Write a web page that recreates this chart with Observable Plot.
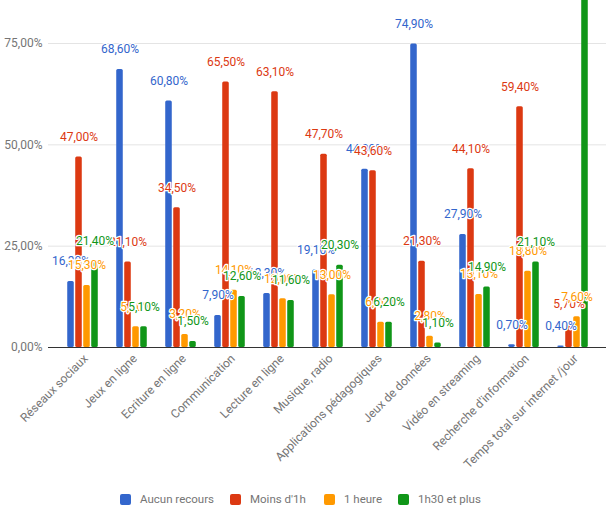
<!DOCTYPE html>
<html>
<head>
<meta charset="utf-8">
<script src="https://cdn.jsdelivr.net/npm/d3@7"></script>
<script src="https://cdn.jsdelivr.net/npm/@observablehq/plot@0.6"></script>
<style>
  html, body { margin: 0; padding: 0; background: #fff; }
  body { width: 610px; height: 512px; overflow: hidden; font-family: Roboto, "Noto Sans", sans-serif; }
  #legend { position: relative; height: 32px; font-size: 11.5px; color: #757575; }
  #legend .item { position: absolute; top: 12px; display: flex; align-items: center; white-space: nowrap; }
  #legend .sw { width: 11px; height: 11px; border-radius: 2px; margin-right: 9px; }
</style>
</head>
<body>
<div id="chart"></div>
<div id="legend"></div>
<script>
// Usage categories (x axis)
const categories = [
  "Réseaux sociaux", "Jeux en ligne", "Ecriture en ligne", "Communication",
  "Lecture en ligne", "Musique, radio", "Applications pédagogiques",
  "Jeux de données", "Vidéo en streaming", "Recherche d'information",
  "Temps total sur internet /jour"
];

// Series names and colours
const seriesNames = ["Aucun recours", "Moins d'1h", "1 heure", "1h30 et plus"];
const seriesColors = ["#3366cc", "#dc3912", "#ff9900", "#109618"];

// Share of respondents (%) per category, one array per series
const aucunRecours = [16.3, 68.6, 60.8, 7.9, 13.3, 19.1, 44.0, 74.9, 27.9, 0.7, 0.4];
const moinsDe1h    = [47.0, 21.1, 34.5, 65.5, 63.1, 47.7, 43.6, 21.3, 44.1, 59.4, 5.7];
const uneHeure     = [15.3, 5.1, 3.2, 14.1, 12.0, 13.0, 6.2, 2.8, 13.1, 18.8, 7.6];
const plus1h30     = [21.4, 5.1, 1.5, 12.6, 11.6, 20.3, 6.2, 1.1, 14.9, 21.1, 86.3];

// Y axis ticks
const yTicks = [0, 25, 50, 75];

const seriesValues = [aucunRecours, moinsDe1h, uneHeure, plus1h30];
const fmt = v => v.toFixed(2).replace(".", ",") + "%";

// Highest value still inside the plot frame; labels above it fall outside the chart
const yTop = 80;

// Bar geometry inside each category band
const band = (599 - 55) / categories.length;
const barW = 7, barGap = 1;
const groupW = 4 * barW + 3 * barGap;

const marks = [
  Plot.gridY(yTicks.slice(1), { stroke: "#e4e4e4", strokeOpacity: 1 }),
];

seriesValues.forEach((vals, i) => {
  const rows = categories.map((c, k) => ({ cat: c, value: vals[k] }));
  const left = (band - groupW) / 2 + i * (barW + barGap);
  marks.push(Plot.barY(rows, {
    x: "cat", y: "value", fill: seriesColors[i],
    insetLeft: left, insetRight: band - left - barW, rx: 1.5, clip: true
  }));
});

seriesValues.forEach((vals, i) => {
  const rows = categories
    .map((c, k) => ({ cat: c, value: vals[k] }))
    .filter(d => d.value < yTop);
  const dx = -groupW / 2 + barW / 2 + i * (barW + barGap);
  marks.push(Plot.text(rows, {
    x: "cat", y: "value", text: d => fmt(d.value), dx, dy: -20,
    fill: seriesColors[i], stroke: "white", strokeWidth: 2.5,
    fontSize: 12, fontFamily: "Roboto"
  }));
});

marks.push(
  Plot.ruleY([0], { stroke: "#333", strokeWidth: 1 }),
  Plot.axisY({
    ticks: yTicks, tickFormat: fmt, tickSize: 0, tickPadding: 6,
    fontSize: 12, fill: "#757575", label: null
  }),
  Plot.axisX({
    tickRotate: -45, tickSize: 0, tickPadding: 9, dx: 3,
    fontSize: 12, fill: "#757575", label: null
  })
);

const chart = Plot.plot({
  width: 610, height: 480,
  marginLeft: 48, marginRight: 4, marginTop: 0, marginBottom: 133,
  style: { fontFamily: "Roboto", background: "white" },
  x: { domain: categories, range: [55, 599], padding: 0 },
  y: { domain: [0, 75], range: [347, 43] },
  marks
});
document.getElementById("chart").appendChild(chart);

// Legend below the chart
const legendLeft = [120, 230, 324, 398];
const legend = document.getElementById("legend");
seriesNames.forEach((name, i) => {
  const item = document.createElement("div");
  item.className = "item";
  item.style.left = legendLeft[i] + "px";
  const sw = document.createElement("span");
  sw.className = "sw";
  sw.style.background = seriesColors[i];
  const label = document.createElement("span");
  label.textContent = name;
  item.append(sw, label);
  legend.appendChild(item);
});
</script>
</body>
</html>
